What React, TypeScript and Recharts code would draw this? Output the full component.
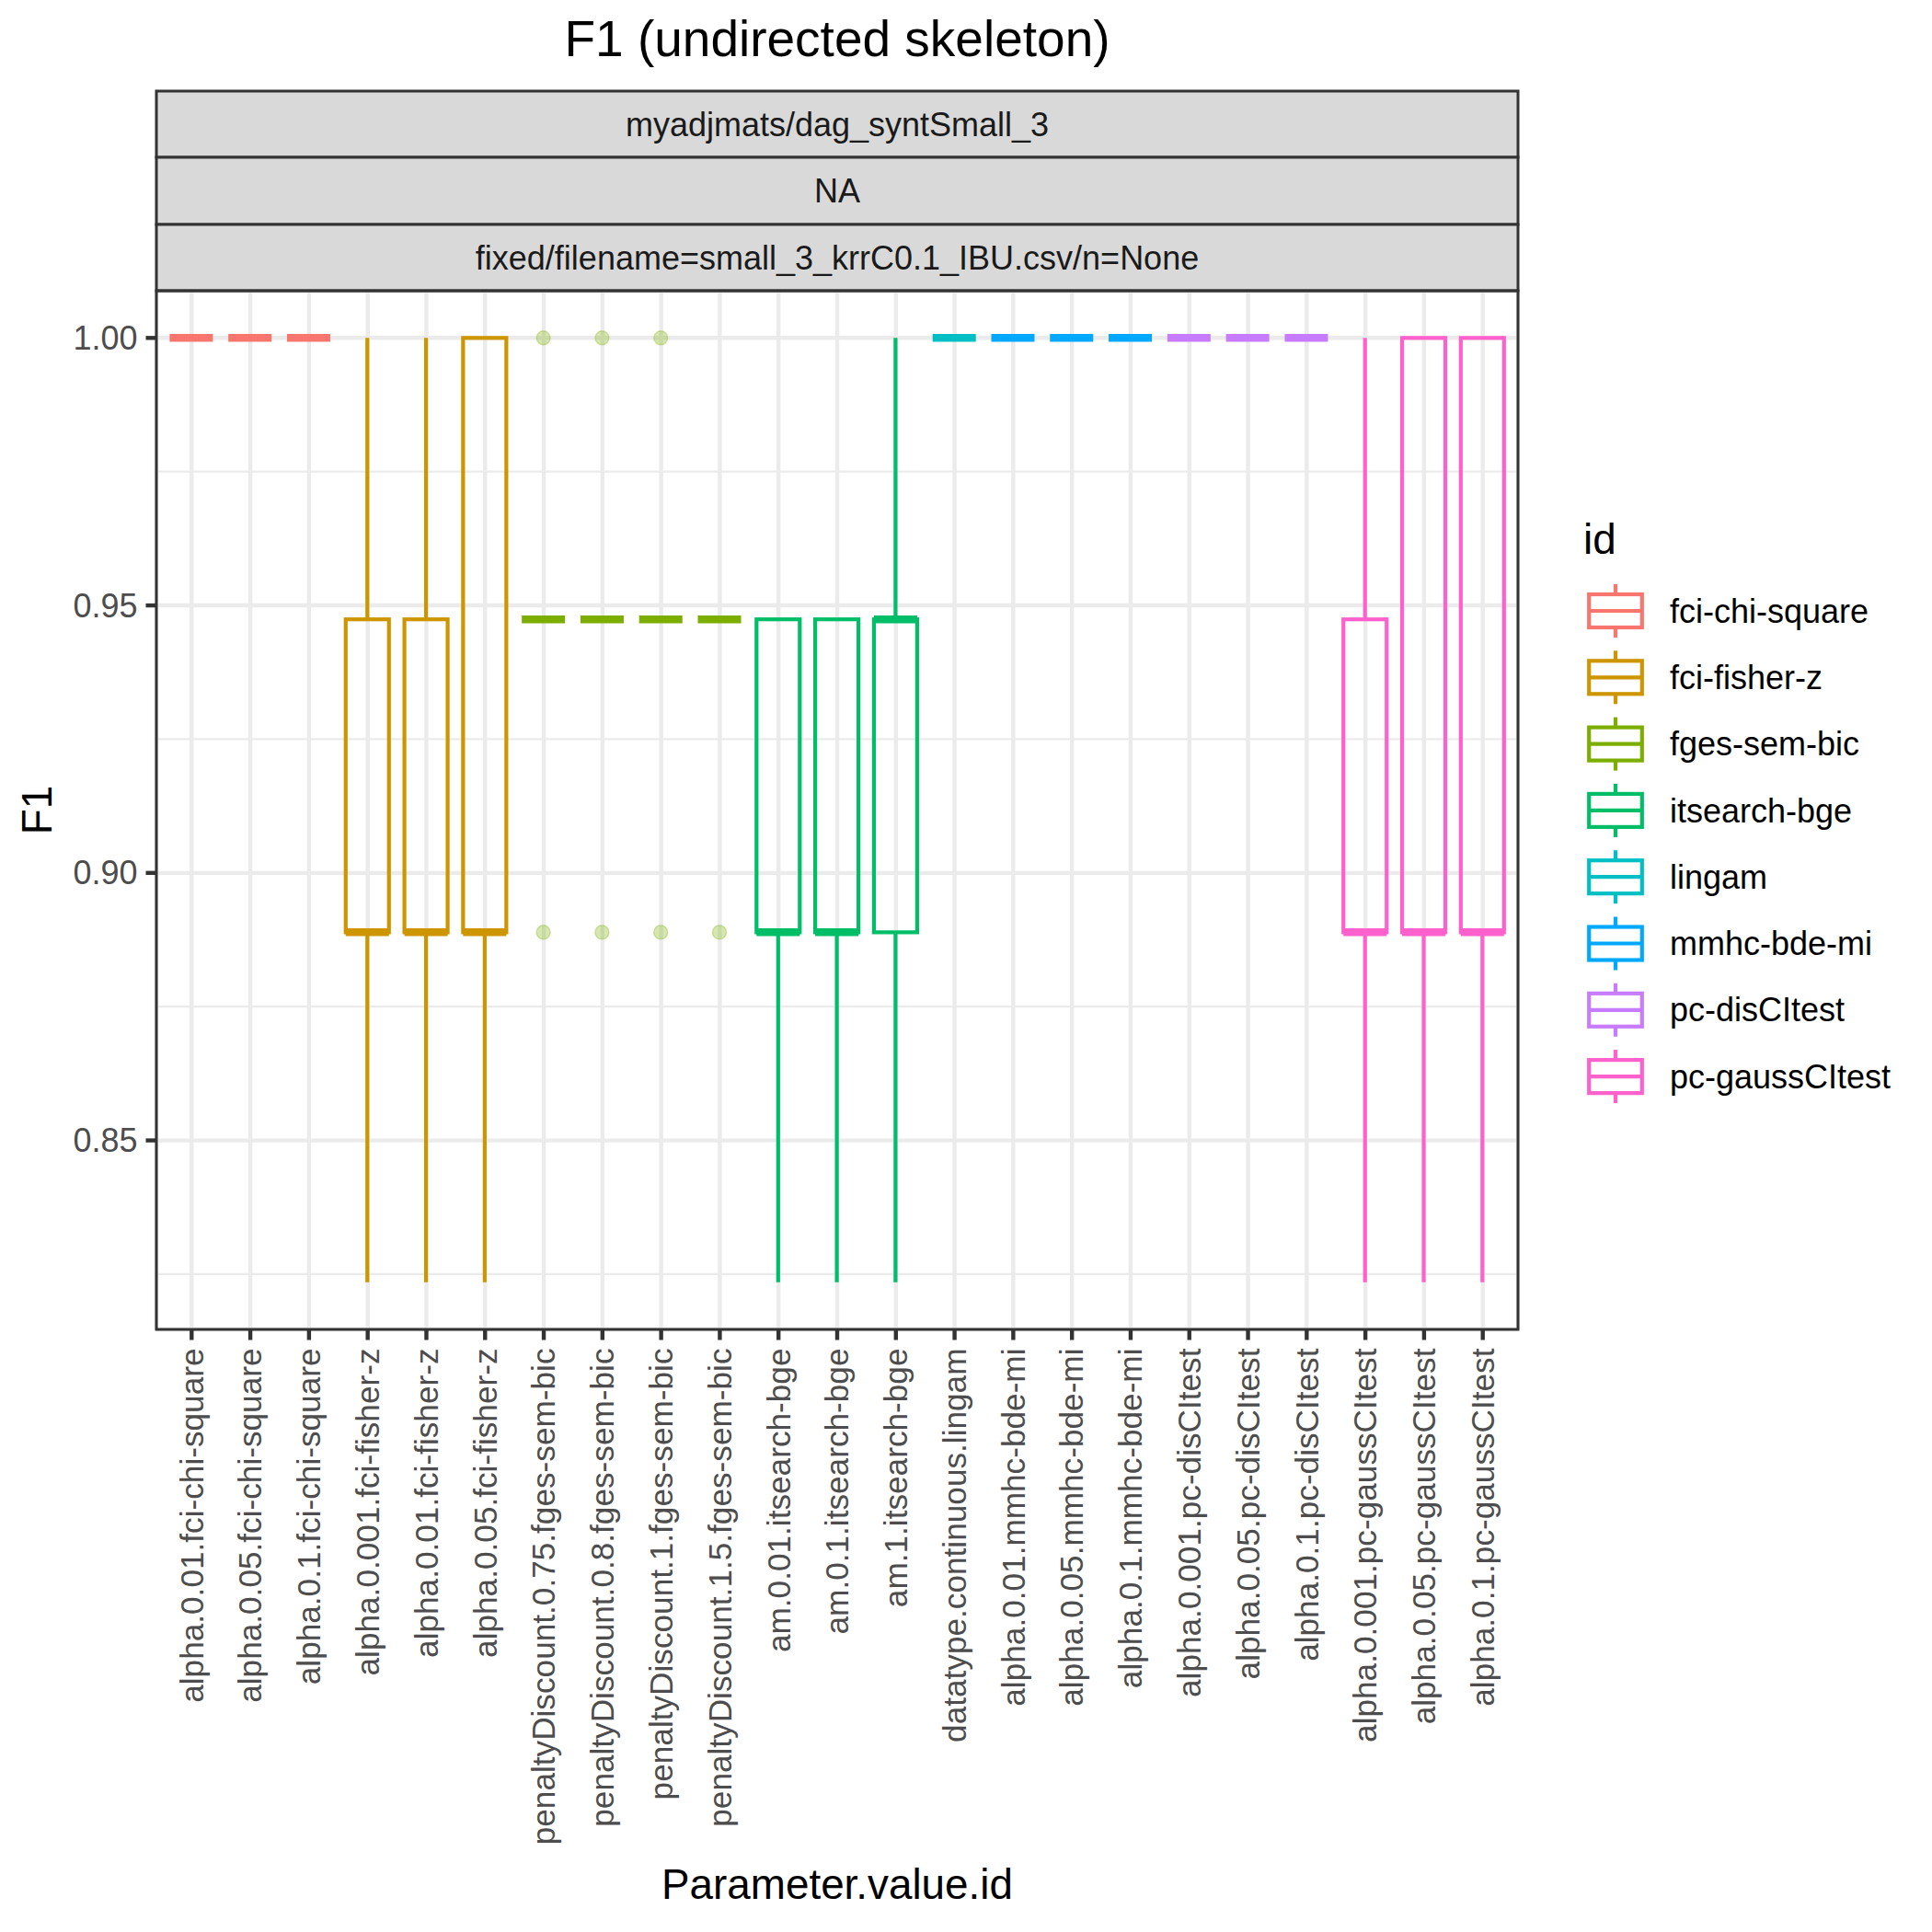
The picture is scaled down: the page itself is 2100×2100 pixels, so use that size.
import React from "react";
import { ComposedChart, Bar, XAxis, YAxis, CartesianGrid } from "recharts";

const CATEGORIES = [
  "alpha.0.01.fci-chi-square",
  "alpha.0.05.fci-chi-square",
  "alpha.0.1.fci-chi-square",
  "alpha.0.001.fci-fisher-z",
  "alpha.0.01.fci-fisher-z",
  "alpha.0.05.fci-fisher-z",
  "penaltyDiscount.0.75.fges-sem-bic",
  "penaltyDiscount.0.8.fges-sem-bic",
  "penaltyDiscount.1.fges-sem-bic",
  "penaltyDiscount.1.5.fges-sem-bic",
  "am.0.01.itsearch-bge",
  "am.0.1.itsearch-bge",
  "am.1.itsearch-bge",
  "datatype.continuous.lingam",
  "alpha.0.01.mmhc-bde-mi",
  "alpha.0.05.mmhc-bde-mi",
  "alpha.0.1.mmhc-bde-mi",
  "alpha.0.001.pc-disCItest",
  "alpha.0.05.pc-disCItest",
  "alpha.0.1.pc-disCItest",
  "alpha.0.001.pc-gaussCItest",
  "alpha.0.05.pc-gaussCItest",
  "alpha.0.1.pc-gaussCItest",
];

const CATEGORY_ID = [
  "fci-chi-square", "fci-chi-square", "fci-chi-square",
  "fci-fisher-z", "fci-fisher-z", "fci-fisher-z",
  "fges-sem-bic", "fges-sem-bic", "fges-sem-bic", "fges-sem-bic",
  "itsearch-bge", "itsearch-bge", "itsearch-bge",
  "lingam",
  "mmhc-bde-mi", "mmhc-bde-mi", "mmhc-bde-mi",
  "pc-disCItest", "pc-disCItest", "pc-disCItest",
  "pc-gaussCItest", "pc-gaussCItest", "pc-gaussCItest",
];

const LOWER = [1, 1, 1, 0.8235, 0.8235, 0.8235, 0.9474, 0.9474, 0.9474, 0.9474, 0.8235, 0.8235, 0.8235, 1, 1, 1, 1, 1, 1, 1, 0.8235, 0.8235, 0.8235];
const Q1 = [1, 1, 1, 0.8889, 0.8889, 0.8889, 0.9474, 0.9474, 0.9474, 0.9474, 0.8889, 0.8889, 0.8889, 1, 1, 1, 1, 1, 1, 1, 0.8889, 0.8889, 0.8889];
const MEDIAN = [1, 1, 1, 0.8889, 0.8889, 0.8889, 0.9474, 0.9474, 0.9474, 0.9474, 0.8889, 0.8889, 0.9474, 1, 1, 1, 1, 1, 1, 1, 0.8889, 0.8889, 0.8889];
const Q3 = [1, 1, 1, 0.9474, 0.9474, 1, 0.9474, 0.9474, 0.9474, 0.9474, 0.9474, 0.9474, 0.9474, 1, 1, 1, 1, 1, 1, 1, 0.9474, 1, 1];
const UPPER = [1, 1, 1, 1, 1, 1, 0.9474, 0.9474, 0.9474, 0.9474, 0.9474, 0.9474, 1, 1, 1, 1, 1, 1, 1, 1, 1, 1, 1];
const OUTLIERS: number[][] = [
  [], [], [],
  [], [], [],
  [1, 0.8889], [1, 0.8889], [1, 0.8889], [0.8889],
  [], [], [],
  [],
  [], [], [],
  [], [], [],
  [], [], [],
];

const IDS = ["fci-chi-square", "fci-fisher-z", "fges-sem-bic", "itsearch-bge", "lingam", "mmhc-bde-mi", "pc-disCItest", "pc-gaussCItest"];
const ID_COLORS = ["#F8766D", "#CD9600", "#7CAE00", "#00BE67", "#00BFC4", "#00A9FF", "#C77CFF", "#FF61CC"];

const Y_TICKS = [0.85, 0.9, 0.95, 1.0];
const Y_MINOR = [0.825, 0.875, 0.925, 0.975];

const TITLE = "F1 (undirected skeleton)";
const STRIPS = ["myadjmats/dag_syntSmall_3", "NA", "fixed/filename=small_3_krrC0.1_IBU.csv/n=None"];
const X_TITLE = "Parameter.value.id";
const Y_TITLE = "F1";
const LEGEND_TITLE = "id";

const allVals = [...LOWER, ...UPPER, ...OUTLIERS.flat()];
const vMin = Math.min(...allVals);
const vMax = Math.max(...allVals);
const expand = (vMax - vMin) * 0.05;
const Y_DOMAIN: [number, number] = [vMin - expand, vMax + expand];

const data = CATEGORIES.map((cat, i) => ({
  cat,
  id: CATEGORY_ID[i],
  lower: LOWER[i],
  q1: Q1[i],
  median: MEDIAN[i],
  q3: Q3[i],
  upper: UPPER[i],
  outliers: OUTLIERS[i],
}));

const FONT = "'Liberation Sans', Arial, Helvetica, sans-serif";
const colorOf = (id: string) => ID_COLORS[IDS.indexOf(id)];

const BoxShape = (props: any) => {
  const { x, y, width, height, payload } = props;
  if (!payload) return null;
  const top = Math.min(y, y + height);
  const h = Math.abs(height);
  const [dMin, dMax] = Y_DOMAIN;
  const py = (v: number) => top + ((dMax - v) / (dMax - dMin)) * h;
  const cx = x + width / 2;
  const x0 = x;
  const x1 = x + width;
  const col = colorOf(payload.id);
  const yq1 = py(payload.q1);
  const yq3 = py(payload.q3);
  const sw = 4.2;
  return (
    <g>
      {payload.upper > payload.q3 && (
        <line x1={cx} x2={cx} y1={py(payload.upper)} y2={yq3} stroke={col} strokeWidth={sw} />
      )}
      {payload.lower < payload.q1 && (
        <line x1={cx} x2={cx} y1={yq1} y2={py(payload.lower)} stroke={col} strokeWidth={sw} />
      )}
      <rect x={x0} y={yq3} width={width} height={Math.max(0, yq1 - yq3)} fill="none" stroke={col} strokeWidth={sw} />
      <line x1={x0} x2={x1} y1={py(payload.median)} y2={py(payload.median)} stroke={col} strokeWidth={8.5} />
      {payload.outliers.map((o: number, k: number) => (
        <circle key={k} cx={cx} cy={py(o)} r={7.5} fill={col} fillOpacity={0.3} stroke={col} strokeOpacity={0.3} strokeWidth={1.5} />
      ))}
    </g>
  );
};

const XTick = (props: any) => {
  const { x, y, payload } = props;
  return (
    <text
      x={x}
      y={y}
      transform={`rotate(-90 ${x} ${y})`}
      textAnchor="end"
      dy="0.35em"
      fontSize={35.2}
      fontFamily={FONT}
      fill="#4D4D4D"
    >
      {payload.value}
    </text>
  );
};

const YTick = (props: any) => {
  const { x, y, payload } = props;
  return (
    <text x={x} y={y} textAnchor="end" dy="0.35em" fontSize={36} fontFamily={FONT} fill="#4D4D4D">
      {Number(payload.value).toFixed(2)}
    </text>
  );
};

const PANEL = { left: 170, top: 316, right: 1650, bottom: 1445 };
const STRIP_EDGES = [99, 171, 244, 316];
const LEGEND_ROWS_TOP = 664;
const LEGEND_ROW_H = 72.3;

export default function App() {
  return (
    <div style={{ position: "absolute", left: 0, top: 0, width: 2100, height: 2100, background: "#FFFFFF" }}>
      <ComposedChart
        width={2100}
        height={2100}
        data={data}
        margin={{ top: PANEL.top, right: 2100 - PANEL.right, bottom: 0, left: 0 }}
        barCategoryGap={0}
      >
        <CartesianGrid
          horizontalValues={Y_MINOR}
          vertical={false}
          stroke="#EBEBEB"
          strokeWidth={2.2}
          fill="#FFFFFF"
        />
        <CartesianGrid stroke="#EBEBEB" strokeWidth={4.4} />
        <XAxis
          dataKey="cat"
          type="category"
          interval={0}
          height={2100 - PANEL.bottom}
          padding={{ left: 6.4, right: 6.4 }}
          axisLine={false}
          tickLine={{ stroke: "#333333", strokeWidth: 4.4 }}
          tickSize={11.5}
          tickMargin={9}
          tick={<XTick />}
        />
        <YAxis
          type="number"
          domain={Y_DOMAIN}
          allowDataOverflow
          ticks={Y_TICKS}
          width={PANEL.left}
          axisLine={false}
          tickLine={{ stroke: "#333333", strokeWidth: 4.4 }}
          tickSize={11.5}
          tickMargin={9}
          tick={<YTick />}
        />
        <Bar
          dataKey={() => Y_DOMAIN}
          barSize={47}
          fill="none"
          isAnimationActive={false}
          shape={<BoxShape />}
        />
      </ComposedChart>
      <svg
        width={2100}
        height={2100}
        style={{ position: "absolute", left: 0, top: 0, pointerEvents: "none" }}
        fontFamily={FONT}
      >
        <text x={(PANEL.left + PANEL.right) / 2} y={61} textAnchor="middle" fontSize={55} fill="#000000">
          {TITLE}
        </text>
        {STRIPS.map((s, i) => (
          <g key={i}>
            <rect
              x={PANEL.left}
              y={STRIP_EDGES[i]}
              width={PANEL.right - PANEL.left}
              height={STRIP_EDGES[i + 1] - STRIP_EDGES[i]}
              fill="#D9D9D9"
              stroke="#333333"
              strokeWidth={3}
            />
            <text
              x={(PANEL.left + PANEL.right) / 2}
              y={(STRIP_EDGES[i] + STRIP_EDGES[i + 1]) / 2}
              dy="0.35em"
              textAnchor="middle"
              fontSize={36}
              fill="#1A1A1A"
            >
              {s}
            </text>
          </g>
        ))}
        <rect
          x={PANEL.left}
          y={PANEL.top}
          width={PANEL.right - PANEL.left}
          height={PANEL.bottom - PANEL.top}
          fill="none"
          stroke="#333333"
          strokeWidth={3}
        />
        <text x={(PANEL.left + PANEL.right) / 2} y={2064} textAnchor="middle" fontSize={45.8} fill="#000000">
          {X_TITLE}
        </text>
        <text
          x={56}
          y={(PANEL.top + PANEL.bottom) / 2}
          transform={`rotate(-90 56 ${(PANEL.top + PANEL.bottom) / 2})`}
          textAnchor="middle"
          fontSize={45.8}
          fill="#000000"
        >
          {Y_TITLE}
        </text>
        <text x={1721} y={602} fontSize={45.8} fill="#000000">
          {LEGEND_TITLE}
        </text>
        {IDS.map((id, i) => {
          const cy = LEGEND_ROWS_TOP + i * LEGEND_ROW_H;
          const kx = 1720;
          const col = ID_COLORS[i];
          return (
            <g key={id}>
              <line x1={kx + 36} x2={kx + 36} y1={cy - 29} y2={cy - 18} stroke={col} strokeWidth={4.2} />
              <line x1={kx + 36} x2={kx + 36} y1={cy + 18} y2={cy + 29} stroke={col} strokeWidth={4.2} />
              <rect x={kx + 7.2} y={cy - 18} width={57.6} height={36} fill="#FFFFFF" stroke={col} strokeWidth={4.2} />
              <line x1={kx + 7.2} x2={kx + 64.8} y1={cy} y2={cy} stroke={col} strokeWidth={4.2} />
              <text x={1815} y={cy} dy="0.35em" fontSize={36} fill="#000000">
                {id}
              </text>
            </g>
          );
        })}
      </svg>
    </div>
  );
}
